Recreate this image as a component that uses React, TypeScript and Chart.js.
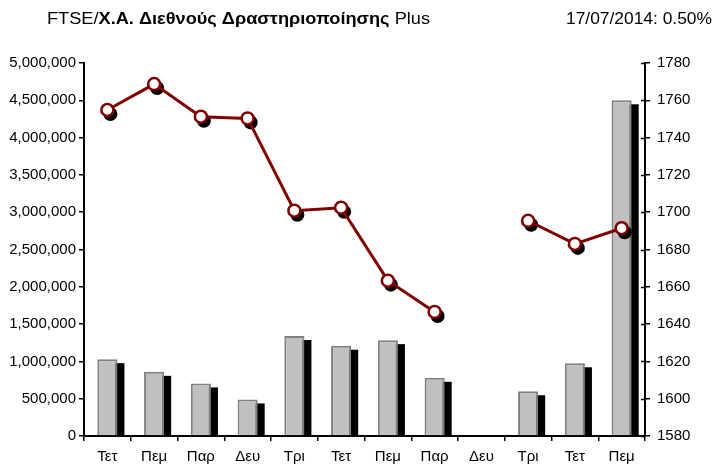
import React, { useEffect, useRef } from "react";
import { Chart, registerables } from "chart.js";

Chart.register(...registerables);

const categories = ["Τετ", "Πεμ", "Παρ", "Δευ", "Τρι", "Τετ", "Πεμ", "Παρ", "Δευ", "Τρι", "Τετ", "Πεμ"];
const volumeValues = [1030000, 860000, 705000, 490000, 1340000, 1210000, 1285000, 780000, null, 600000, 975000, 4500000];
const indexValues = [1754.8, 1768.7, 1751.2, 1750.3, 1700.8, 1702.4, 1663.3, 1646.5, null, 1695.4, 1683.0, 1691.4];

const titleNormal1 = "FTSE/";
const titleBold = "Χ.Α. Διεθνούς Δραστηριοποίησης";
const titleNormal2 = " Plus";
const dateText = "17/07/2014: 0.50%";

const FONT = "'Liberation Sans', Arial, sans-serif";

const shadowPlugin = {
  id: "shadows",
  beforeDatasetDraw(chart: any, args: any) {
    const ctx = chart.ctx;
    const meta = args.meta;
    const ds = chart.data.datasets[args.index];
    ctx.save();
    ctx.fillStyle = "#000";
    if (meta.type === "bar") {
      meta.data.forEach((el: any, i: number) => {
        if (ds.data[i] == null) return;
        const p = el.getProps(["x", "y", "base", "width"], true);
        ctx.fillRect(p.x - p.width / 2 + 7, p.y + 4, p.width, p.base - p.y - 3);
      });
    } else if (meta.type === "line") {
      meta.data.forEach((el: any, i: number) => {
        if (ds.data[i] == null) return;
        ctx.beginPath();
        ctx.arc(el.x + 3, el.y + 4, 7, 0, Math.PI * 2);
        ctx.fill();
      });
    }
    ctx.restore();
  },
};

const decorPlugin = {
  id: "decor",
  afterDraw(chart: any) {
    const ctx = chart.ctx;
    const s = chart.scales.y1;
    ctx.save();
    ctx.strokeStyle = "#000";
    ctx.lineWidth = 1.5;
    s.ticks.forEach((t: any) => {
      const y = Math.round(s.getPixelForValue(t.value)) + 0.5;
      ctx.beginPath();
      ctx.moveTo(s.left - 4, y);
      ctx.lineTo(s.left, y);
      ctx.stroke();
    });
    ctx.restore();

    ctx.save();
    ctx.fillStyle = "#000";
    ctx.textBaseline = "alphabetic";
    ctx.textAlign = "left";
    const normal = `16px ${FONT}`;
    const bold = `bold 16px ${FONT}`;
    ctx.font = normal;
    const w1 = ctx.measureText(titleNormal1).width;
    const w3 = ctx.measureText(titleNormal2).width;
    ctx.font = bold;
    const w2 = ctx.measureText(titleBold).width;
    const total = w1 + w2 + w3;
    const targetW = 383;
    ctx.translate(47, 24);
    ctx.scale(targetW / total, 1);
    ctx.font = normal;
    ctx.fillText(titleNormal1, 0, 0);
    ctx.font = bold;
    ctx.fillText(titleBold, w1, 0);
    ctx.font = normal;
    ctx.fillText(titleNormal2, w1 + w2, 0);
    ctx.restore();

    ctx.save();
    ctx.fillStyle = "#000";
    ctx.textBaseline = "alphabetic";
    ctx.font = normal;
    const wd = ctx.measureText(dateText).width;
    const targetD = 146;
    ctx.translate(712 - targetD, 24);
    ctx.scale(targetD / wd, 1);
    ctx.fillText(dateText, 0, 0);
    ctx.restore();
  },
};

export default function App() {
  const ref = useRef<HTMLCanvasElement | null>(null);

  useEffect(() => {
    document.body.style.margin = "0";
    const canvas = ref.current;
    if (!canvas) return;
    const tickFont = { family: FONT, size: 15 };
    const chart = new Chart(canvas, {
      type: "bar",
      data: {
        labels: categories,
        datasets: [
          {
            type: "line",
            data: indexValues,
            yAxisID: "y1",
            borderColor: "#800000",
            borderWidth: 3,
            pointRadius: 6,
            pointBorderWidth: 2.5,
            pointBackgroundColor: "#ffffff",
            pointBorderColor: "#800000",
            spanGaps: false,
            tension: 0,
            order: 0,
          } as any,
          {
            type: "bar",
            data: volumeValues,
            yAxisID: "y",
            backgroundColor: "#c0c0c0",
            borderColor: "#808080",
            borderWidth: 2,
            barPercentage: 0.43,
            categoryPercentage: 1,
            order: 1,
          } as any,
        ],
      },
      options: {
        responsive: false,
        animation: false,
        devicePixelRatio: 1,
        layout: { padding: { top: 63, left: 0, right: 0, bottom: 0 } },
        plugins: {
          legend: { display: false },
          tooltip: { enabled: false },
          title: { display: false },
        },
        scales: {
          x: {
            offset: true,
            grid: {
              offset: true,
              drawOnChartArea: false,
              drawTicks: true,
              tickLength: 5,
              color: "#000",
              lineWidth: 1.5,
            },
            border: { color: "#000", width: 2 },
            ticks: { color: "#000", font: tickFont, padding: 7, maxRotation: 0, autoSkip: false },
            afterFit: (s: any) => {
              s.height = 30;
            },
          },
          y: {
            position: "left",
            min: 0,
            max: 5000000,
            grid: {
              drawOnChartArea: false,
              drawTicks: true,
              tickLength: 5,
              color: "#000",
              lineWidth: 1.5,
            },
            border: { color: "#000", width: 2 },
            ticks: {
              stepSize: 500000,
              color: "#000",
              font: tickFont,
              padding: 3,
              callback: (v: any) => Number(v).toLocaleString("en-US"),
            },
            afterFit: (s: any) => {
              s.width = 84;
            },
          },
          y1: {
            position: "right",
            min: 1580,
            max: 1780,
            grid: {
              drawOnChartArea: false,
              drawTicks: true,
              tickLength: 5,
              color: "#000",
              lineWidth: 1.5,
            },
            border: { color: "#000", width: 2 },
            ticks: {
              stepSize: 20,
              color: "#000",
              font: tickFont,
              padding: 7,
              callback: (v: any) => String(v),
            },
            afterFit: (s: any) => {
              s.width = 72;
            },
          },
        },
      } as any,
      plugins: [shadowPlugin, decorPlugin],
    });
    return () => chart.destroy();
  }, []);

  return (
    <canvas
      ref={ref}
      width={717}
      height={466}
      style={{ display: "block", width: "717px", height: "466px" }}
    />
  );
}
